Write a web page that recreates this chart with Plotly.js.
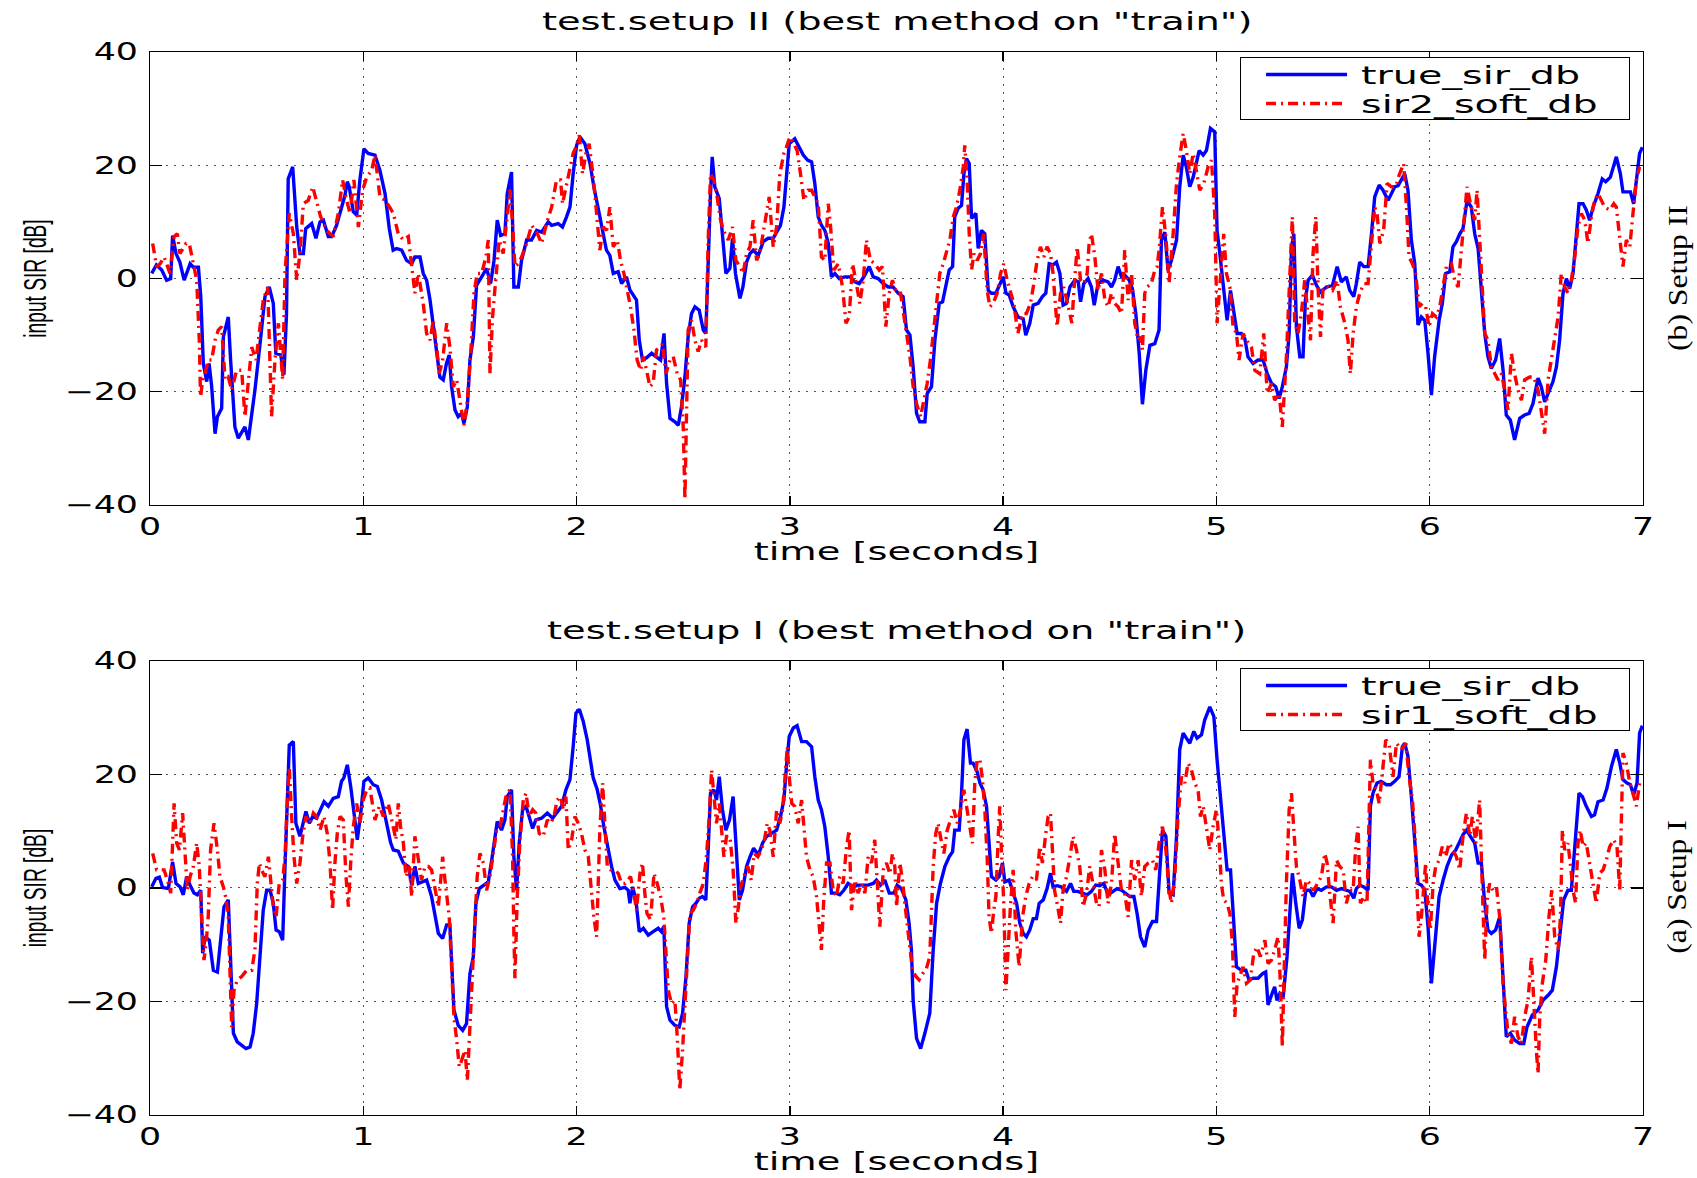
<!DOCTYPE html>
<html>
<head>
<meta charset="utf-8">
<script src="https://cdn.plot.ly/plotly-3.0.1.min.js"></script>
<style>
  html, body { margin: 0; padding: 0; background: #fff; }
  #chart { width: 1697px; height: 1178px; }
</style>
</head>
<body>
<div id="chart"></div>
<script>
// ---- Setup II: [time in s, SIR in dB] ----
var setup2True = [
[0.008,0.9],[0.03,2.4],[0.055,1.5],[0.078,-0.3],[0.097,0],[0.106,7.6],[0.122,4.4],[0.14,2.9],[0.16,-0.3],[0.188,2.6],
[0.203,2],[0.227,2],[0.238,-3.2],[0.25,-15],[0.266,-18.2],[0.277,-15],[0.289,-19],[0.305,-27.4],[0.316,-24.4],[0.336,-22.9],
[0.344,-10.3],[0.367,-6.8],[0.378,-14.4],[0.398,-26.2],[0.414,-28.2],[0.445,-26.2],[0.461,-28.5],[0.492,-19.7],[0.516,-11.5],[0.539,-3.2],
[0.559,-1.5],[0.578,-4.4],[0.59,-13.2],[0.613,-13.5],[0.628,-17],[0.64,-6.2],[0.648,17.6],[0.669,19.7],[0.688,9.1],[0.703,4.4],
[0.719,4.4],[0.73,8.8],[0.758,9.7],[0.778,7.1],[0.797,10],[0.813,10.3],[0.836,7.4],[0.852,7.4],[0.875,9.4],[0.898,12.6],
[0.914,14.7],[0.925,17.1],[0.934,16.2],[0.953,11.8],[0.969,11.2],[0.984,17.4],[1.003,22.9],[1.023,22.1],[1.055,21.8],[1.078,19.1],
[1.102,15],[1.122,8.8],[1.14,5],[1.156,5.3],[1.18,5],[1.203,3.2],[1.227,2.6],[1.242,3.8],[1.266,3.8],[1.281,0.9],
[1.297,-0.3],[1.313,-3.8],[1.328,-7.9],[1.344,-13.2],[1.359,-17.4],[1.375,-17.9],[1.39,-15],[1.403,-13.5],[1.414,-19.1],[1.43,-23.2],
[1.445,-24.4],[1.461,-23.8],[1.472,-25.6],[1.488,-22.6],[1.5,-14.4],[1.516,-10.3],[1.531,-1.2],[1.555,0.3],[1.578,1.8],[1.597,-0.9],
[1.613,3.2],[1.628,10.3],[1.644,7.6],[1.664,7.9],[1.675,15],[1.695,18.8],[1.706,-1.5],[1.727,-1.5],[1.742,3.2],[1.766,6.8],
[1.789,6.8],[1.813,8.5],[1.836,8.2],[1.867,10],[1.883,9.4],[1.914,9.7],[1.934,9.1],[1.953,10.9],[1.969,12.6],[1.984,18.5],
[2.0,23.5],[2.016,25],[2.039,23.8],[2.063,20.3],[2.081,16.2],[2.106,11.5],[2.125,7.9],[2.14,5],[2.156,4.1],[2.172,0.9],
[2.195,1.2],[2.211,-0.9],[2.234,0.3],[2.25,-2],[2.281,-3.8],[2.294,-10.9],[2.309,-14.4],[2.328,-14],[2.352,-13.2],[2.375,-13.8],
[2.394,-14.4],[2.41,-9.7],[2.422,-18.5],[2.438,-24.7],[2.461,-25.3],[2.477,-25.9],[2.492,-22.6],[2.508,-17.4],[2.523,-10.3],[2.539,-6.2],
[2.555,-5],[2.575,-5.6],[2.594,-9.1],[2.606,-9.7],[2.617,3.8],[2.628,15],[2.636,21.5],[2.648,16.2],[2.669,14.1],[2.684,7.9],
[2.7,0.9],[2.719,1.8],[2.731,7.1],[2.745,0.9],[2.766,-3.5],[2.78,-1.5],[2.797,2.9],[2.813,4.4],[2.828,5],[2.852,4.1],
[2.875,6.5],[2.898,7.1],[2.922,7.1],[2.938,8.2],[2.956,9.4],[2.972,12.6],[2.984,18.5],[2.997,23.8],[3.023,24.7],[3.044,23.2],
[3.063,21.8],[3.083,20.9],[3.102,20.6],[3.117,16.8],[3.133,10.9],[3.148,9.4],[3.164,8.5],[3.18,6.2],[3.195,0.3],[3.211,0.9],
[3.231,0],[3.258,0.3],[3.281,0.3],[3.305,-0.6],[3.325,-0.9],[3.347,0.3],[3.372,2.1],[3.391,0.3],[3.414,0],[3.438,-0.9],
[3.461,-1.5],[3.484,-1.5],[3.508,-2.6],[3.531,-3.2],[3.547,-9.1],[3.563,-10],[3.578,-15.6],[3.594,-23.8],[3.609,-25.3],[3.633,-25.3],
[3.644,-20.3],[3.664,-19.1],[3.68,-10.9],[3.7,-4.4],[3.716,-4.1],[3.727,-2.1],[3.747,1.5],[3.763,2.1],[3.773,10.9],[3.789,12.4],
[3.805,12.9],[3.816,18.5],[3.828,21.2],[3.841,20.3],[3.852,10.6],[3.872,11.5],[3.883,5.3],[3.898,8.5],[3.914,7.9],[3.93,-2.1],
[3.945,-2.6],[3.966,-2.6],[3.984,-1.2],[4.0,0.3],[4.013,-2.6],[4.028,-2.9],[4.047,-5],[4.07,-6.8],[4.094,-7.1],[4.106,-10],
[4.125,-7.9],[4.141,-4.7],[4.164,-4.4],[4.184,-3.2],[4.2,-2.6],[4.216,2.6],[4.234,2.4],[4.25,2.9],[4.266,0.9],[4.281,-4.7],
[4.297,-4.4],[4.313,-1.5],[4.336,-0.3],[4.352,-0.6],[4.363,-4.1],[4.378,-0.9],[4.398,0],[4.414,-1.5],[4.427,-4.7],[4.445,-0.9],
[4.469,-0.3],[4.492,-0.6],[4.508,-1.5],[4.523,-0.3],[4.539,2.1],[4.555,0.3],[4.57,0.6],[4.591,-0.3],[4.606,-1.8],[4.622,-6.2],
[4.638,-13.2],[4.653,-22.2],[4.669,-16.2],[4.688,-11.8],[4.711,-11.5],[4.731,-9.1],[4.742,6.8],[4.758,8.2],[4.773,1.5],[4.789,3.2],
[4.813,6.8],[4.828,16.2],[4.844,21.8],[4.859,19.7],[4.875,16.2],[4.891,17.9],[4.919,22.6],[4.938,21.8],[4.953,22.6],[4.972,26.5],
[4.992,25.9],[5.003,8.5],[5.016,4.4],[5.031,-0.3],[5.05,-7.4],[5.066,-2.1],[5.081,-6.2],[5.097,-9.7],[5.117,-9.7],[5.133,-10.6],
[5.148,-13.8],[5.172,-15],[5.195,-14.4],[5.219,-14.4],[5.238,-16.8],[5.258,-18.5],[5.278,-19.1],[5.294,-21.2],[5.309,-19.1],[5.328,-15.6],
[5.341,-9.7],[5.352,5.6],[5.363,7.9],[5.375,-8.5],[5.391,-13.8],[5.406,-13.8],[5.417,-3.8],[5.43,-0.3],[5.45,0.6],[5.469,-1.2],
[5.488,-2.4],[5.516,-1.5],[5.544,-1.2],[5.566,2.1],[5.586,-0.6],[5.609,0.3],[5.625,-2.1],[5.644,-3.2],[5.656,-0.9],[5.672,2.9],
[5.691,2.1],[5.711,2.1],[5.727,7.9],[5.742,14.4],[5.763,16.5],[5.781,15.6],[5.805,13.8],[5.836,16.2],[5.852,16.4],[5.867,17.4],
[5.883,18.5],[5.898,15.6],[5.914,6.8],[5.93,2.6],[5.945,-8.2],[5.961,-6.8],[5.977,-7.4],[5.992,-13.2],[6.008,-20.6],[6.023,-13.8],
[6.044,-7.4],[6.059,-4.4],[6.075,0.9],[6.094,1.2],[6.109,5.6],[6.125,6.5],[6.141,7.9],[6.156,8.8],[6.175,13.8],[6.195,12.6],
[6.211,7.9],[6.227,5.3],[6.242,-2.6],[6.258,-9.7],[6.273,-13.8],[6.289,-15.9],[6.309,-14.4],[6.328,-10.6],[6.344,-16.2],[6.359,-24.1],
[6.378,-25],[6.398,-28.5],[6.422,-24.7],[6.445,-24.1],[6.466,-23.8],[6.484,-22.1],[6.508,-17.6],[6.523,-19.1],[6.539,-21.8],[6.555,-20.3],
[6.578,-18.2],[6.594,-15.6],[6.609,-10.9],[6.625,-2.6],[6.641,0],[6.656,-1.8],[6.672,0.9],[6.688,7.9],[6.7,13.2],[6.719,13.2],
[6.734,12.1],[6.75,10.3],[6.766,12.6],[6.789,15],[6.809,17.6],[6.825,17.1],[6.847,17.9],[6.875,21.5],[6.894,18.5],[6.906,15.3],
[6.925,15.3],[6.941,15.3],[6.956,13.2],[6.972,17.9],[6.984,22.1],[6.997,23.2]
];

var setup2Soft = [
[0.0125,6.2],[0.031,2.1],[0.047,2.6],[0.066,3.8],[0.094,0.9],[0.113,7.4],[0.128,7.9],[0.14,4.4],[0.156,5.3],[0.169,6.2],
[0.184,6.2],[0.2,3.2],[0.219,-0.3],[0.231,-10.9],[0.237,-20.9],[0.247,-17.9],[0.258,-16.8],[0.273,-14.4],[0.289,-14.4],[0.305,-10.9],
[0.32,-9.1],[0.336,-8.5],[0.352,-17.9],[0.367,-17.4],[0.383,-19.7],[0.406,-16.2],[0.43,-16.2],[0.445,-24.4],[0.461,-17.9],[0.477,-12.1],
[0.497,-14.4],[0.516,-7.9],[0.531,-3.8],[0.552,-1.5],[0.57,-24.4],[0.586,-14.4],[0.602,-7.9],[0.622,-17.9],[0.633,0.9],[0.653,11.5],
[0.672,7.9],[0.688,-0.3],[0.703,4.4],[0.719,13.2],[0.742,13.8],[0.763,16.2],[0.781,13.8],[0.8,10.9],[0.828,8.5],[0.859,7.4],
[0.883,11.5],[0.903,17.4],[0.922,13.8],[0.938,11.5],[0.956,17.4],[0.977,9.1],[0.997,15.6],[1.016,17.9],[1.039,19.1],[1.055,21.8],
[1.078,14.4],[1.102,13.8],[1.125,12.5],[1.141,11.5],[1.164,7.9],[1.188,6.8],[1.211,7.4],[1.227,2.1],[1.242,-2.6],[1.258,0.9],
[1.281,-4.4],[1.297,-9.7],[1.313,-10.9],[1.328,-7.4],[1.344,-12.1],[1.356,-16.8],[1.372,-14.4],[1.391,-7.9],[1.406,-12.1],[1.422,-19.1],
[1.438,-17.9],[1.453,-21.5],[1.472,-25.9],[1.488,-21.5],[1.503,-13.8],[1.519,-2.6],[1.534,0.9],[1.555,0.9],[1.575,3.8],[1.586,6.8],
[1.594,-16.8],[1.606,-6.8],[1.622,0.9],[1.637,6.8],[1.656,4.4],[1.672,10.3],[1.688,15.6],[1.7,9.7],[1.711,2.1],[1.727,2.6],
[1.742,3.8],[1.766,6.2],[1.789,9.4],[1.813,8.2],[1.836,6.2],[1.859,9.7],[1.883,12.6],[1.906,17.4],[1.925,17.4],[1.934,13.2],
[1.95,16.2],[1.969,19.7],[1.984,22.1],[1.997,23.2],[2.013,25.3],[2.028,18.5],[2.044,22.1],[2.059,23.8],[2.078,17.9],[2.094,11.5],
[2.109,5],[2.125,9.1],[2.141,8.5],[2.156,12.6],[2.172,5.6],[2.191,6.8],[2.206,3.2],[2.222,0.9],[2.238,-2.1],[2.253,-5],
[2.269,-9.1],[2.284,-14.4],[2.3,-16.2],[2.313,-13.8],[2.328,-16.2],[2.344,-19.1],[2.359,-18.5],[2.375,-12.6],[2.391,-12.1],[2.403,-11.5],
[2.419,-16.8],[2.438,-14.4],[2.453,-13.8],[2.472,-16.8],[2.488,-17.9],[2.5,-26.2],[2.508,-39],[2.516,-22.6],[2.523,-9.1],[2.539,-7.4],
[2.555,-10.9],[2.57,-12.9],[2.586,-10.9],[2.606,-12.1],[2.617,6.8],[2.628,18.5],[2.644,17.4],[2.659,14.4],[2.672,10.9],[2.688,8.5],
[2.711,6.8],[2.731,9.1],[2.747,3.2],[2.766,2.1],[2.781,0.9],[2.797,4.4],[2.813,5.6],[2.828,10.3],[2.844,3.2],[2.859,4.4],
[2.879,9.1],[2.903,14.4],[2.922,5.6],[2.938,9.1],[2.953,18.5],[2.972,22.1],[2.984,23.2],[3.0,25],[3.019,23.8],[3.034,22.6],
[3.05,18.5],[3.066,13.8],[3.086,15.6],[3.102,15.6],[3.117,14.4],[3.133,13.2],[3.148,3.8],[3.164,3.2],[3.18,13.2],[3.191,9.1],
[3.206,1.5],[3.227,2.6],[3.247,-1.5],[3.263,-7.9],[3.278,-6.8],[3.294,2.6],[3.309,-0.3],[3.328,-4.4],[3.344,-0.3],[3.359,6.8],
[3.378,3.2],[3.398,2.6],[3.419,1.5],[3.434,2.1],[3.45,-8.5],[3.466,-2.6],[3.481,-0.3],[3.5,-2.6],[3.519,-2.6],[3.534,-6.2],
[3.547,-9.7],[3.563,-13.8],[3.578,-19.1],[3.594,-22.1],[3.613,-24.4],[3.628,-21.5],[3.644,-18.5],[3.659,-14.4],[3.672,-9.7],[3.688,-3.8],
[3.703,0.9],[3.719,2.6],[3.734,4.4],[3.75,6.8],[3.766,10.9],[3.781,12.6],[3.797,15.6],[3.813,19.7],[3.82,23.5],[3.831,17.4],
[3.841,7.9],[3.852,1.5],[3.863,4.4],[3.878,3.2],[3.894,4.4],[3.909,7.9],[3.925,-2.1],[3.938,-5],[3.953,-4.4],[3.972,-2.6],
[3.988,0.9],[4.003,2.6],[4.019,-0.3],[4.034,-2.1],[4.05,-4.4],[4.069,-9.7],[4.091,-6.2],[4.109,-6.2],[4.128,-4.4],[4.144,-0.9],
[4.159,3.2],[4.175,5.6],[4.191,3.8],[4.206,5.6],[4.222,4.4],[4.234,0.9],[4.247,-6.2],[4.253,-8.5],[4.269,-2.6],[4.284,-1.5],
[4.306,-5],[4.322,-7.9],[4.333,-1.5],[4.347,5.6],[4.363,-0.3],[4.378,-0.9],[4.394,0.9],[4.403,6.2],[4.414,7.9],[4.43,3.8],
[4.445,-2.1],[4.461,0.9],[4.477,-3.8],[4.492,-5],[4.508,-2.6],[4.523,-4.4],[4.539,-5],[4.555,-6.2],[4.57,5],[4.586,-3.8],
[4.602,0.9],[4.617,-7.9],[4.633,-10.9],[4.645,-10.3],[4.653,-12.6],[4.664,-2.6],[4.675,-1.5],[4.695,-0.9],[4.711,1.5],[4.722,2.1],
[4.731,5],[4.747,12.6],[4.763,7.4],[4.778,-0.9],[4.797,7.9],[4.813,16.8],[4.828,21.5],[4.844,25.6],[4.859,22.6],[4.875,18.5],
[4.891,22.1],[4.906,18.5],[4.922,15.6],[4.941,16.8],[4.961,19.7],[4.977,20.9],[4.992,11.5],[5.003,-7.9],[5.019,0.9],[5.034,7.9],
[5.047,0.9],[5.063,-1.5],[5.078,-8.5],[5.094,-9.7],[5.106,-14.4],[5.125,-9.7],[5.141,-10.9],[5.164,-12.1],[5.18,-16.2],[5.203,-16.8],
[5.222,-9.7],[5.238,-20.3],[5.258,-18.5],[5.273,-21.5],[5.294,-20.3],[5.309,-26.2],[5.328,-13.8],[5.344,0.9],[5.356,10.9],[5.367,-7.9],
[5.383,-9.7],[5.398,-6.2],[5.414,-0.3],[5.43,-6.8],[5.441,-10.9],[5.453,4.4],[5.466,10.9],[5.477,-2.1],[5.488,-10.3],[5.5,-1.5],
[5.523,-1.5],[5.544,-2.1],[5.566,-0.3],[5.581,-5],[5.602,-7.9],[5.617,-10.9],[5.628,-16.8],[5.641,-9.7],[5.656,-5],[5.672,-2.6],
[5.691,-0.9],[5.711,-0.9],[5.727,5.6],[5.742,12.6],[5.753,11.5],[5.766,6.2],[5.784,8.5],[5.8,16.8],[5.82,16.2],[5.841,16.2],
[5.856,18.2],[5.867,19.1],[5.878,20.3],[5.891,12.6],[5.903,3.8],[5.919,2.6],[5.934,0.9],[5.95,-5],[5.966,-4.4],[5.981,-5],
[5.997,-8.5],[6.013,-6.2],[6.031,-6.8],[6.047,-5],[6.063,-0.9],[6.078,2.1],[6.102,2.6],[6.117,-0.3],[6.133,-1.5],[6.148,4.4],
[6.164,10.9],[6.175,16.2],[6.191,13.2],[6.211,10.3],[6.222,15.6],[6.234,6.8],[6.247,-2.6],[6.258,-9.7],[6.273,-10.9],[6.289,-15.6],
[6.305,-16.8],[6.32,-17.9],[6.336,-16.8],[6.352,-19.7],[6.367,-23.2],[6.383,-13.2],[6.398,-16.8],[6.414,-19.7],[6.43,-21.5],[6.445,-17.9],
[6.469,-17.4],[6.488,-17.4],[6.508,-19.7],[6.523,-23.8],[6.539,-27.4],[6.555,-17.9],[6.57,-14.4],[6.586,-10.9],[6.602,-6.8],[6.617,0.9],
[6.633,-1.5],[6.648,-2.6],[6.664,-0.3],[6.68,3.8],[6.695,9.1],[6.711,11.5],[6.727,10.3],[6.742,6.2],[6.758,10.9],[6.773,13.8],
[6.789,15],[6.805,13.8],[6.82,12.6],[6.844,12.1],[6.863,13.2],[6.875,12.6],[6.891,6.8],[6.906,2.1],[6.922,6.8],[6.938,5.6],
[6.953,11.5],[6.969,17.4],[6.984,19.7]
];

// ---- Setup I: [time in s, SIR in dB] ----
var setup1True = [
[0.008,0.2],[0.028,1.7],[0.044,1.9],[0.059,0.1],[0.086,-0.1],[0.106,4.6],[0.122,0.8],[0.141,0.2],[0.156,-1.2],[0.172,2],
[0.188,0.5],[0.206,-0.9],[0.222,-1.2],[0.238,-0.4],[0.247,-11.5],[0.258,-8.6],[0.278,-9.2],[0.297,-14.5],[0.316,-14.8],[0.328,-9.8],
[0.347,-3.3],[0.367,-2.1],[0.378,-13.9],[0.391,-25.6],[0.409,-27.1],[0.43,-27.7],[0.45,-28.3],[0.469,-28],[0.484,-25.6],[0.5,-20.4],
[0.516,-12.1],[0.531,-3.9],[0.547,-0.4],[0.563,-0.4],[0.578,-2.7],[0.591,-7.4],[0.606,-7.7],[0.622,-9.2],[0.633,3.8],[0.644,16.1],
[0.653,25.2],[0.672,25.8],[0.684,11.4],[0.703,9.1],[0.719,11.4],[0.731,13.5],[0.747,11.4],[0.763,12.6],[0.781,12.3],[0.797,13.8],
[0.816,15.2],[0.836,14.4],[0.859,15.8],[0.883,16.1],[0.898,18.8],[0.909,19.4],[0.925,21.7],[0.941,17.9],[0.956,13.8],[0.972,8.5],
[0.988,13.2],[1.003,18.8],[1.023,19.4],[1.047,18.2],[1.066,17.9],[1.086,15.5],[1.106,12],[1.128,8],[1.141,6.7],[1.164,6.5],
[1.188,4.4],[1.211,3.8],[1.227,0.5],[1.242,3.8],[1.258,0.8],[1.281,1.1],[1.297,1.4],[1.32,-1.5],[1.336,-4.5],[1.352,-8],
[1.372,-8.9],[1.391,-6.5],[1.406,-6.5],[1.414,-14.5],[1.425,-21.5],[1.445,-24.2],[1.466,-25.1],[1.484,-23.9],[1.5,-15.1],[1.516,-12.1],
[1.528,-2.7],[1.544,-0.1],[1.566,0.5],[1.586,1.1],[1.602,4.9],[1.628,11.7],[1.648,10.2],[1.664,12],[1.675,16.1],[1.695,17.3],
[1.706,5.5],[1.719,-0.4],[1.731,7.9],[1.747,13.8],[1.763,14.4],[1.778,12.6],[1.794,10.5],[1.809,12],[1.836,12.3],[1.863,13.2],
[1.888,12.3],[1.906,13.2],[1.93,14.4],[1.95,17.3],[1.969,19.1],[1.984,24.9],[1.997,30.8],[2.013,31.5],[2.031,29.4],[2.05,26.1],
[2.063,23.2],[2.078,19.4],[2.097,17.3],[2.113,14.4],[2.128,10.8],[2.148,6.7],[2.164,3.8],[2.18,1.4],[2.203,-0.1],[2.227,0.1],
[2.242,-0.4],[2.25,-2.7],[2.263,0.2],[2.278,-2.1],[2.294,-7.7],[2.313,-7.1],[2.336,-8.3],[2.359,-7.7],[2.383,-7.1],[2.398,-7.7],
[2.409,-6.8],[2.422,-20.9],[2.438,-23.3],[2.461,-24.2],[2.481,-24.5],[2.497,-22.1],[2.513,-15.6],[2.528,-6.2],[2.544,-3.3],[2.559,-2.7],
[2.575,-1.8],[2.59,-1.5],[2.606,-2.1],[2.617,6.7],[2.628,16.7],[2.644,17.3],[2.656,15.5],[2.669,19.6],[2.684,13.8],[2.7,10.2],
[2.717,12],[2.734,16.1],[2.747,8.5],[2.763,-2.1],[2.778,-0.4],[2.797,3.8],[2.813,5.5],[2.83,7],[2.852,5.8],[2.872,7.9],
[2.891,9.1],[2.914,9.6],[2.938,10.2],[2.956,12.6],[2.972,15.5],[2.984,21.4],[2.997,26.7],[3.016,28.2],[3.034,28.6],[3.055,25.8],
[3.078,25.8],[3.102,24.9],[3.117,19.6],[3.133,15.5],[3.148,13.8],[3.164,10.8],[3.18,5.5],[3.195,-0.9],[3.216,-0.9],[3.234,-1.2],
[3.253,-0.4],[3.273,0.8],[3.297,0.2],[3.32,0.5],[3.344,0.5],[3.367,0.5],[3.391,0.8],[3.406,1.4],[3.425,0.5],[3.445,1.4],
[3.466,-0.9],[3.488,-0.9],[3.503,0.5],[3.523,-0.1],[3.544,-2.1],[3.559,-6.2],[3.57,-10.9],[3.578,-19.8],[3.594,-26.5],[3.613,-28.3],
[3.633,-25.6],[3.656,-22.1],[3.672,-10.9],[3.688,-2.7],[3.706,0.8],[3.727,3.8],[3.747,5.5],[3.763,6.4],[3.773,10.2],[3.794,10.2],
[3.805,16.7],[3.816,26.1],[3.831,28],[3.847,22],[3.859,22],[3.878,20.5],[3.891,18.5],[3.906,17.3],[3.922,14.4],[3.934,6.7],
[3.945,2],[3.966,1.4],[3.981,2],[3.997,4.4],[4.008,1.1],[4.028,1.4],[4.047,-0.9],[4.063,-2.7],[4.078,-6.2],[4.094,-8],
[4.109,-8.6],[4.125,-7.4],[4.141,-5.4],[4.156,-5.4],[4.169,-2.7],[4.188,-2.1],[4.206,-0.1],[4.222,2.6],[4.234,0.2],[4.253,0.4],
[4.272,0.2],[4.297,-0.6],[4.316,0.8],[4.331,-0.6],[4.35,-0.6],[4.372,-0.9],[4.394,-1.2],[4.414,-0.6],[4.434,0.5],[4.453,0.4],
[4.472,0.8],[4.492,-1.2],[4.513,-0.6],[4.534,-0.1],[4.555,-0.4],[4.575,-0.9],[4.594,-1.5],[4.613,-1.5],[4.628,-4.5],[4.644,-8.6],
[4.664,-10.4],[4.68,-7.4],[4.7,-5.9],[4.719,-5.9],[4.731,0.8],[4.747,10.2],[4.763,9.1],[4.778,-0.9],[4.797,-1.2],[4.813,9.1],
[4.828,24.4],[4.844,27.3],[4.859,26.4],[4.875,25.5],[4.894,27.6],[4.909,26.4],[4.93,27],[4.945,29.6],[4.969,31.9],[4.988,30.2],
[5.003,22.6],[5.023,14.9],[5.044,6.7],[5.05,3.2],[5.066,3.2],[5.078,-5.1],[5.094,-13.9],[5.117,-14.5],[5.138,-14.5],[5.153,-16.2],
[5.172,-15.9],[5.195,-15.9],[5.216,-15.1],[5.231,-14.8],[5.242,-20.6],[5.258,-18.9],[5.273,-17.4],[5.284,-19.8],[5.297,-18.6],[5.313,-19.2],
[5.331,-12.1],[5.344,-4.5],[5.356,2.6],[5.372,-2.7],[5.388,-7.1],[5.403,-5.6],[5.419,-0.4],[5.438,-0.4],[5.453,-1.5],[5.472,-0.1],
[5.492,-0.4],[5.516,0.2],[5.539,0.2],[5.563,-0.4],[5.586,-0.1],[5.609,-0.4],[5.625,-0.6],[5.644,-1.8],[5.656,-0.1],[5.672,0.5],
[5.691,0.2],[5.711,-0.4],[5.722,14.4],[5.734,16.7],[5.753,18.5],[5.772,18.8],[5.797,18.2],[5.816,18.2],[5.836,18.8],[5.856,19.6],
[5.872,24.9],[5.883,25.5],[5.898,23.2],[5.914,16.1],[5.93,9.1],[5.945,0.8],[5.961,0.5],[5.977,-0.4],[5.992,-6.8],[6.008,-16.8],
[6.023,-10.4],[6.044,-1.5],[6.063,1.4],[6.081,3.8],[6.102,5.8],[6.122,6.7],[6.141,8.2],[6.156,9.4],[6.172,10.2],[6.191,9.1],
[6.211,7.9],[6.227,4.4],[6.242,4.4],[6.258,-2.7],[6.273,-7.4],[6.289,-8],[6.309,-7.4],[6.328,-5.1],[6.344,-16.8],[6.359,-26.2],
[6.378,-25.6],[6.398,-26.8],[6.422,-27.4],[6.441,-27.4],[6.456,-24.5],[6.481,-22.4],[6.508,-21.5],[6.531,-19.8],[6.555,-18.9],[6.575,-18],
[6.594,-13.9],[6.613,-7.4],[6.628,-2.1],[6.648,-0.4],[6.664,-0.4],[6.684,9.1],[6.7,16.7],[6.716,16.1],[6.734,14.4],[6.758,12.6],
[6.773,12.9],[6.789,15.2],[6.813,15.5],[6.831,17.6],[6.852,21.4],[6.875,24.4],[6.891,22],[6.906,19.1],[6.925,18.5],[6.941,18.2],
[6.956,16.4],[6.972,18.5],[6.984,27.3],[6.997,28.6]
];

var setup1Soft = [
[0.0125,6.1],[0.031,3.2],[0.05,3.2],[0.066,3.2],[0.086,0.8],[0.097,-0.9],[0.106,7.9],[0.113,14.9],[0.125,7.9],[0.138,6.7],
[0.153,13.2],[0.164,6.7],[0.175,-0.4],[0.188,2],[0.203,3.8],[0.219,7.9],[0.231,3.8],[0.242,-5.1],[0.253,-12.7],[0.263,-9.8],
[0.273,-5.1],[0.284,6.7],[0.3,11.4],[0.316,6.7],[0.328,2],[0.344,0.2],[0.356,-1.8],[0.367,-5.1],[0.375,-16.8],[0.383,-24.5],
[0.394,-18],[0.409,-16.2],[0.43,-15.6],[0.453,-14.5],[0.477,-14.5],[0.492,-10.9],[0.503,0.8],[0.513,4.4],[0.523,3.2],[0.539,2],
[0.555,5.5],[0.566,0.8],[0.578,-3.3],[0.591,-5.1],[0.606,0.8],[0.622,1.4],[0.633,5.5],[0.644,15.5],[0.653,21.4],[0.664,12.6],
[0.675,5.5],[0.688,0.8],[0.703,4.4],[0.716,9.1],[0.731,12.6],[0.75,11.4],[0.766,13.2],[0.781,12.6],[0.797,10.2],[0.816,12.6],
[0.831,9.6],[0.844,4.4],[0.856,-3.9],[0.867,4.4],[0.878,9.6],[0.891,12.6],[0.906,12],[0.919,2],[0.93,-3.3],[0.941,4.4],
[0.953,10.8],[0.969,14.9],[0.984,11.4],[1.0,15.5],[1.016,17.3],[1.031,17.6],[1.055,12],[1.075,14.4],[1.094,12.6],[1.117,14.9],
[1.138,11.4],[1.153,8.5],[1.164,14.9],[1.175,10.8],[1.188,7.9],[1.2,2],[1.216,3.8],[1.227,-1.5],[1.242,9.1],[1.258,5.5],
[1.273,1.4],[1.289,3.8],[1.305,3.8],[1.32,3.2],[1.336,0.2],[1.352,-3.3],[1.363,1.4],[1.372,5.5],[1.383,1.4],[1.394,-2.1],
[1.403,-5.1],[1.414,-13.9],[1.425,-22.7],[1.438,-26.8],[1.45,-31.5],[1.461,-30.4],[1.477,-28.6],[1.488,-33.9],[1.5,-23.3],[1.513,-12.7],
[1.523,-6.2],[1.534,2],[1.547,6.1],[1.563,4.4],[1.578,-0.4],[1.594,2],[1.609,6.1],[1.625,10.2],[1.641,10.8],[1.656,13.8],
[1.672,16.7],[1.688,17.3],[1.7,5.5],[1.706,-8],[1.711,-15.9],[1.722,-1.5],[1.734,7.9],[1.75,15.5],[1.763,16.7],[1.778,12.6],
[1.794,13.8],[1.809,13.2],[1.825,9.6],[1.844,9.1],[1.863,12],[1.878,11.4],[1.894,12.6],[1.909,15.5],[1.925,16.1],[1.938,13.8],
[1.95,16.1],[1.961,6.7],[1.977,8.5],[1.992,12.6],[2.008,11.4],[2.023,9.6],[2.039,6.7],[2.055,5.5],[2.07,-0.4],[2.081,-5.1],
[2.094,-8.6],[2.102,0.8],[2.109,10.2],[2.122,18.5],[2.133,10.2],[2.144,3.8],[2.159,3.2],[2.175,3.2],[2.195,2.6],[2.211,0.8],
[2.227,0.8],[2.242,1.4],[2.253,2],[2.266,-0.4],[2.281,-3.9],[2.297,2.5],[2.309,4.4],[2.32,-0.9],[2.33,-4.5],[2.347,-5.6],
[2.363,2.6],[2.378,0.8],[2.394,-1.5],[2.409,-5.1],[2.419,-10.9],[2.43,-18],[2.445,-20.4],[2.461,-19.8],[2.472,-26.2],[2.484,-35.6],
[2.497,-28.6],[2.508,-19.8],[2.519,-12.1],[2.531,-4.5],[2.547,-3.9],[2.563,-2.7],[2.578,-0.9],[2.594,0.8],[2.609,5.5],[2.622,12.6],
[2.633,20.8],[2.644,15.5],[2.656,11.4],[2.669,14.9],[2.681,10.2],[2.691,5.5],[2.703,9.1],[2.719,9.1],[2.734,3.2],[2.747,-6.2],
[2.759,-3.3],[2.769,0.2],[2.784,2],[2.803,3.8],[2.819,1.4],[2.833,6.1],[2.85,5.5],[2.866,6.7],[2.881,8.5],[2.894,11.4],
[2.906,10.2],[2.922,5.5],[2.938,13.8],[2.953,11.4],[2.966,13.8],[2.978,19.6],[2.988,24.9],[2.997,19.6],[3.009,14.9],[3.023,14.4],
[3.039,11.4],[3.055,15.5],[3.066,10.2],[3.078,5.5],[3.094,3.2],[3.109,2],[3.125,-1.5],[3.138,-6.2],[3.148,-10.9],[3.159,-2.1],
[3.172,4.4],[3.188,4.4],[3.203,-0.4],[3.219,-1.5],[3.234,2],[3.25,0.8],[3.266,7.3],[3.278,10.2],[3.289,-3.9],[3.305,1.4],
[3.32,-0.9],[3.336,0.8],[3.352,-0.9],[3.367,5.5],[3.383,4.4],[3.398,8.5],[3.409,2],[3.422,-6.8],[3.438,3.2],[3.453,4.4],
[3.469,2.5],[3.481,6.1],[3.492,3.8],[3.5,-3.3],[3.516,4.4],[3.528,1.4],[3.539,-2.7],[3.55,-6.2],[3.563,-10.9],[3.575,-14.5],
[3.591,-15.6],[3.606,-16.2],[3.622,-15.1],[3.638,-14.5],[3.656,-12.1],[3.664,-5.1],[3.672,3.8],[3.684,9.6],[3.695,11.4],[3.706,9.1],
[3.722,6.1],[3.738,10.2],[3.753,12],[3.769,13.8],[3.784,11.4],[3.8,13.8],[3.816,17.3],[3.831,13.8],[3.844,11.4],[3.856,7.9],
[3.867,18.5],[3.878,22.6],[3.891,22.6],[3.903,19.1],[3.914,13.8],[3.925,5.5],[3.934,-5.1],[3.945,-8],[3.956,-3.9],[3.966,-1.5],
[3.977,9.1],[3.984,14.4],[3.992,6.7],[4.003,-2.7],[4.013,-18],[4.023,-9.8],[4.034,-3.3],[4.047,3.2],[4.059,-7.4],[4.075,-13.9],
[4.091,-5.1],[4.106,-1.5],[4.122,0.8],[4.138,2],[4.156,1.4],[4.172,7.3],[4.184,4.4],[4.2,9.6],[4.211,12.6],[4.222,13.2],
[4.231,6.7],[4.241,-0.4],[4.256,-3.3],[4.269,-6.2],[4.281,-0.4],[4.297,2],[4.313,5.5],[4.328,9.1],[4.344,6.7],[4.359,3.8],
[4.375,-3.3],[4.391,-0.9],[4.406,3.8],[4.422,0.8],[4.438,-2.7],[4.45,-3.3],[4.461,6.7],[4.477,3.2],[4.492,-2.7],[4.508,0.8],
[4.523,9.6],[4.539,4.4],[4.555,-0.4],[4.57,-0.9],[4.586,-5.1],[4.602,4.9],[4.617,1.4],[4.633,4.9],[4.648,-1.5],[4.664,3.8],
[4.68,4.4],[4.7,4.9],[4.716,3.2],[4.731,7.9],[4.747,10.8],[4.763,6.7],[4.778,-0.4],[4.789,-2.7],[4.805,2],[4.82,12.6],
[4.836,19.6],[4.852,18.5],[4.867,22],[4.883,20.8],[4.898,18.5],[4.914,17.3],[4.925,12.6],[4.938,14.4],[4.953,10.2],[4.969,6.7],
[4.984,10.8],[5.0,13.8],[5.013,7.9],[5.023,0.8],[5.034,-2.1],[5.05,-2.7],[5.063,-4.5],[5.075,-9.8],[5.086,-22.7],[5.097,-16.8],
[5.109,-15.6],[5.125,-13.9],[5.141,-16.8],[5.159,-16.2],[5.175,-11.5],[5.191,-10.4],[5.206,-12.1],[5.227,-9.2],[5.242,-13.3],[5.258,-12.7],
[5.273,-10.9],[5.289,-8.6],[5.3,-16.8],[5.309,-28],[5.32,-10.9],[5.328,0.8],[5.341,13.8],[5.352,16.7],[5.363,10.2],[5.375,3.8],
[5.391,1.4],[5.406,-1.5],[5.422,1.4],[5.438,0.8],[5.456,-0.4],[5.472,0.8],[5.492,2],[5.508,6.1],[5.519,4.4],[5.531,-0.9],
[5.547,-6.2],[5.563,4.9],[5.578,3.8],[5.594,3.2],[5.609,-2.7],[5.625,-0.4],[5.641,-0.4],[5.653,7.3],[5.664,10.8],[5.675,-2.7],
[5.691,-1.5],[5.706,-2.7],[5.716,12.6],[5.722,22.6],[5.734,18.5],[5.75,17.3],[5.763,14.9],[5.778,20.8],[5.794,26.1],[5.809,25.5],
[5.828,19.6],[5.844,25.5],[5.867,24.4],[5.888,25.5],[5.903,19.6],[5.919,15.5],[5.93,9.6],[5.941,-0.4],[5.95,-8.6],[5.961,-5.1],
[5.972,0.8],[5.981,4.4],[5.992,-3.9],[6.003,-7.4],[6.016,0.8],[6.028,3.8],[6.044,4.9],[6.059,7.3],[6.075,5.5],[6.091,7.9],
[6.109,6.7],[6.125,5.5],[6.141,3.2],[6.156,9.1],[6.172,13.2],[6.188,9.1],[6.2,12.6],[6.216,7.9],[6.227,12.6],[6.234,15.5],
[6.247,-0.4],[6.258,-12.7],[6.269,-2.1],[6.281,0.8],[6.297,-0.4],[6.313,0.2],[6.328,-5.1],[6.344,-16.8],[6.356,-21.5],[6.367,-25.6],
[6.383,-27.4],[6.398,-22.7],[6.414,-26.2],[6.43,-27.4],[6.445,-22.7],[6.461,-19.8],[6.477,-12.1],[6.488,-21.5],[6.5,-28.6],[6.508,-32.7],
[6.516,-22.7],[6.528,-16.8],[6.544,-12.7],[6.559,-5.1],[6.572,-0.4],[6.586,-8.6],[6.602,-10.9],[6.613,-5.1],[6.622,10.2],[6.633,6.7],
[6.648,7.9],[6.659,4.4],[6.672,-0.4],[6.684,-2.7],[6.695,7.9],[6.706,10.2],[6.719,7.3],[6.734,7.9],[6.75,4.4],[6.769,0.8],
[6.781,-2.7],[6.797,2.6],[6.813,3.2],[6.828,4.9],[6.844,7.3],[6.863,8.5],[6.878,7.3],[6.891,-0.4],[6.898,10.2],[6.906,23.8],
[6.922,22],[6.938,18.5],[6.953,16.7],[6.969,14.4],[6.984,18.5],[6.997,19.1]
];

var seriesNames = ['true_sir_db', 'sir2_soft_db', 'sir1_soft_db'];
var panelTitles = ['test.setup II (best method on "train")', 'test.setup I (best method on "train")'];
var panelTags = ['(b) Setup II', '(a) Setup I'];
var xTitle = 'time [seconds]';
var yTitle = 'input SIR [dB]';

var SANS = 'DejaVu Sans, Verdana, sans-serif';
var NARROW = 'Liberation Sans, Arial, sans-serif';
var SERIF = 'Liberation Serif, Times New Roman, serif';

function col(pairs, i) { return pairs.map(function (p) { return p[i]; }); }

var trueLine = { color: '#0000ff', width: 3.4 };
var softLine = { color: '#ff0000', width: 3.4, dash: '10px,5px,2px,5px' };

var traces = [
  { x: col(setup2True, 0), y: col(setup2True, 1), xaxis: 'x', yaxis: 'y', mode: 'lines', name: seriesNames[0], line: trueLine, legend: 'legend' },
  { x: col(setup2Soft, 0), y: col(setup2Soft, 1), xaxis: 'x', yaxis: 'y', mode: 'lines', name: seriesNames[1], line: softLine, legend: 'legend' },
  { x: col(setup1True, 0), y: col(setup1True, 1), xaxis: 'x2', yaxis: 'y2', mode: 'lines', name: seriesNames[0], line: trueLine, legend: 'legend2' },
  { x: col(setup1Soft, 0), y: col(setup1Soft, 1), xaxis: 'x2', yaxis: 'y2', mode: 'lines', name: seriesNames[2], line: softLine, legend: 'legend2' }
];

function xAxis(anchor) {
  return {
    anchor: anchor, domain: [0, 1], range: [0, 7], tick0: 0, dtick: 1,
    showline: true, linecolor: '#000', linewidth: 1.3, mirror: 'ticks',
    ticks: 'inside', ticklen: 9, tickwidth: 1.3, tickcolor: '#000',
    showgrid: true, gridcolor: '#555', gridwidth: 1, griddash: '2px,6px',
    zeroline: false, automargin: false, ticklabelstandoff: 0,
    tickfont: { family: SANS, size: 24, color: '#000' },
    title: { text: xTitle, font: { family: SANS, size: 24, color: '#000' }, standoff: 3 }
  };
}
function yAxis(anchor, domain) {
  return {
    anchor: anchor, domain: domain, range: [-40, 40], tick0: 0, dtick: 20,
    showline: true, linecolor: '#000', linewidth: 1.3, mirror: 'ticks',
    ticks: 'inside', ticklen: 12, tickwidth: 1.3, tickcolor: '#000',
    showgrid: true, gridcolor: '#555', gridwidth: 1, griddash: '2px,6px',
    zeroline: false, automargin: false, ticklabelstandoff: 6,
    tickfont: { family: SANS, size: 24, color: '#000' },
    title: { text: yTitle, font: { family: NARROW, size: 32, color: '#000' }, standoff: 31 }
  };
}
function legendAt(y) {
  return {
    x: 0.7301, xanchor: 'left', y: y, yanchor: 'top',
    bgcolor: '#fff', bordercolor: '#000', borderwidth: 1,
    font: { family: SANS, size: 24, color: '#000' },
    itemwidth: 110, tracegroupgap: 0
  };
}
function note(text, x, y, font, angle) {
  return { xref: 'paper', yref: 'paper', x: x, y: y, xanchor: 'center', yanchor: 'middle',
           text: text, showarrow: false, font: font, textangle: angle || 0 };
}

var layout = {
  width: 1697, height: 1178,
  margin: { l: 150, r: 54, t: 52, b: 63 },
  paper_bgcolor: '#fff', plot_bgcolor: '#fff',
  showlegend: true,
  xaxis: xAxis('y'),
  yaxis: yAxis('x', [0.5738, 1]),
  xaxis2: xAxis('y2'),
  yaxis2: yAxis('x2', [0, 0.4271]),
  legend: legendAt(0.9953),
  legend2: legendAt(0.4205),
  annotations: [
    note(panelTitles[0], 0.5, 1.0282, { family: SANS, size: 24, color: '#000' }),
    note(panelTitles[1], 0.5, 0.4553, { family: SANS, size: 24, color: '#000' }),
    note(panelTags[0], 1.0228, 0.7869, { family: SERIF, size: 28, color: '#000' }, -90),
    note(panelTags[1], 1.0228, 0.2145, { family: SERIF, size: 28, color: '#000' }, -90)
  ]
};

// Set an attribute only when it changes (keeps the observer below quiet).
function setAttr(el, name, value) {
  value = String(value);
  if (el.getAttribute(name) !== value) el.setAttribute(name, value);
}

// Horizontal scaling of a text node about its own anchor point (applied once per node).
function stretch(nodes, s) {
  Array.prototype.forEach.call(nodes, function (el) {
    if (el.getAttribute('data-wide')) return;
    el.setAttribute('data-wide', '1');
    var x = parseFloat(el.getAttribute('x')) || 0;
    var y = parseFloat(el.getAttribute('y')) || 0;
    var tr = el.getAttribute('transform') || '';
    el.setAttribute('transform', tr + ' translate(' + x + ',' + y + ') scale(' + s + ',1) translate(' + (-x) + ',' + (-y) + ')');
  });
}

// Legend boxes: wide text, 390 x 63 px frame, rows 29 px apart, long line samples.
var LEG_S = 1.65, BOX_W = 390, BOX_H = 63, ROW0 = 17.5, ROW_GAP = 29;
function styleLegends(root) {
  Array.prototype.forEach.call(root.querySelectorAll('g.scrollbox'), function (sb) {
    var items = sb.querySelectorAll('g.traces');
    if (!items.length) return;
    var lg = sb.parentNode;
    stretch(sb.querySelectorAll('g.traces text'), LEG_S);
    var bg = lg.querySelector('rect.bg');
    if (bg) { setAttr(bg, 'width', BOX_W - 1); setAttr(bg, 'height', BOX_H - 1); }
    if (sb.hasAttribute('clip-path')) sb.removeAttribute('clip-path');
    Array.prototype.forEach.call(items, function (item, i) {
      setAttr(item, 'transform', 'translate(1,' + (ROW0 + ROW_GAP * i) + ')');
    });
    Array.prototype.forEach.call(sb.querySelectorAll('g.traces path.js-line'), function (p) {
      setAttr(p, 'd', 'M25,0h81');
    });
  });
}

function finish(root) {
  var WIDE = 1.6;
  stretch(root.querySelectorAll('g.xtick text, g.x2tick text, g.ytick text, g.y2tick text'), 1.45);
  stretch(root.querySelectorAll('text.xtitle, text.x2title'), WIDE);
  stretch(root.querySelectorAll('text.ytitle, text.y2title'), 0.6);
  stretch(root.querySelectorAll('g.annotation[data-index="0"] text, g.annotation[data-index="1"] text'), WIDE);
  stretch(root.querySelectorAll('g.annotation[data-index="2"] text, g.annotation[data-index="3"] text'), 1.13);
  styleLegends(root);
}

var chartDiv = document.getElementById('chart');
var busy = false;
var observer = new MutationObserver(function () {
  if (busy) return;
  busy = true;
  try { finish(chartDiv); } finally { busy = false; }
});
observer.observe(chartDiv, { childList: true, subtree: true });

Plotly.newPlot(chartDiv, traces, layout, { staticPlot: true, displayModeBar: false }).then(function (gd) {
  finish(gd);
  setTimeout(function () { finish(gd); }, 30);
});
</script>
</body>
</html>
